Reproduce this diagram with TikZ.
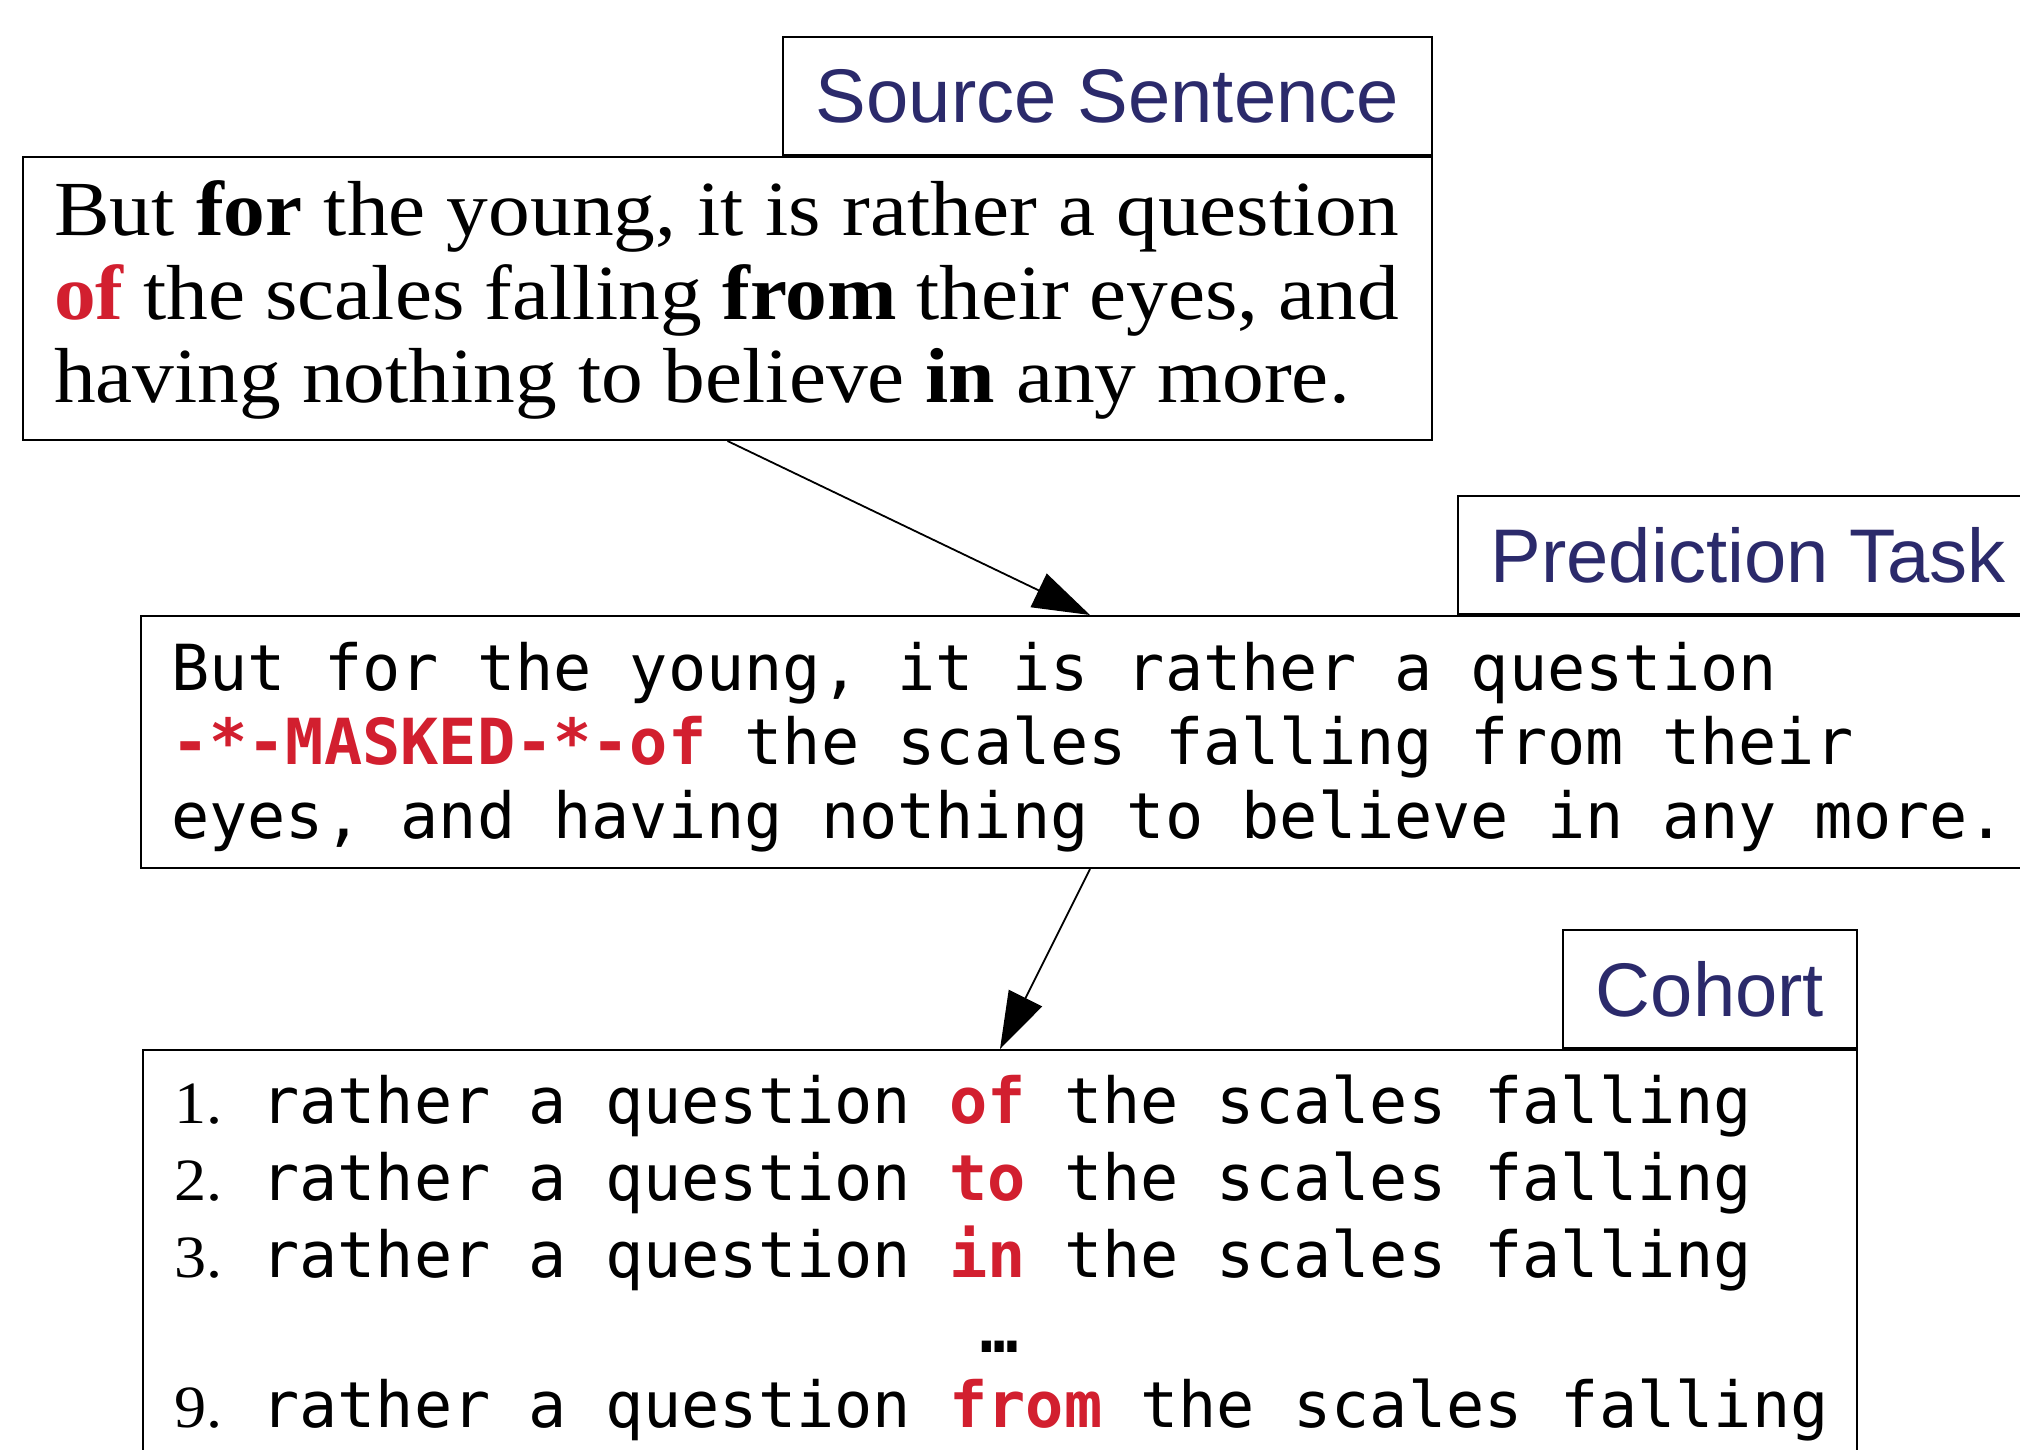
\documentclass[tikz,border=0pt]{standalone}
\usepackage{fontspec}
\setmainfont{Liberation Serif}
\setsansfont{Liberation Sans}
\setmonofont{DejaVu Sans Mono}
\newfontfamily\srcfont[FakeStretch=1.07]{Liberation Serif}
\usetikzlibrary{arrows.meta}
\definecolor{navy}{HTML}{2B2A6B}
\definecolor{hired}{HTML}{D21F2F}
\tikzset{
  box/.style={draw=black, line width=2pt, anchor=north west, inner sep=0pt},
  tag/.style={draw=black, line width=2pt, anchor=south east, minimum height=118pt,
    inner xsep=33pt, inner ysep=0pt, text=navy, font=\sffamily\fontsize{76}{90}\selectfont},
  srcline/.style={anchor=base west, inner sep=0pt, font=\srcfont\fontsize{78}{84}\selectfont},
  monoline/.style={anchor=base west, inner sep=0pt, font=\ttfamily\fontsize{63.5}{75}\selectfont},
  numline/.style={anchor=base west, inner sep=0pt, font=\srcfont\fontsize{60}{70}\selectfont},
  conn/.style={line width=1.8pt, -{Triangle[length=57pt,width=37pt]}}
}
\newcommand{\redw}[1]{\textbf{\color{hired}#1}}
\begin{document}
\begin{tikzpicture}[x=1pt,y=-1pt]
\useasboundingbox (0,0) rectangle (2020,1449);
\clip (0,0) rectangle (2020,1449);
\fill[white] (0,0) rectangle (2020,1449);

% boxes
\node[box, minimum width=1409pt, minimum height=283pt] (src) at (22,156) {};
\node[box, minimum width=1898pt, minimum height=252pt] (pred) at (140,615) {};
\node[box, minimum width=1714pt, minimum height=430pt] (coh) at (142,1049) {};

% tags
\node[tag] (srctag) at (src.north east) {Source Sentence};
\node[tag] (predtag) at (pred.north east) {Prediction Task};
\node[tag] (cohtag) at (coh.north east) {Cohort};

% source sentence
\node[srcline] (s1) at (54,235) {\makebox[1345pt][s]{But \textbf{for} the young, it is rather a question}};
\node[srcline] (s2) at (54,319) {\makebox[1345pt][s]{\redw{of} the scales falling \textbf{from} their eyes, and}};
\node[srcline] (s3) at (54,402) {having nothing to believe \textbf{in} any more.};

% prediction task
\node[monoline] (p1) at (171,690) {But for the young, it is rather a question};
\node[monoline] (p2) at (171,764) {\redw{-*-MASKED-*-of} the scales falling from their};
\node[monoline] (p3) at (171,838) {eyes, and having nothing to believe in any more.};

% cohort
\node[numline] (n1) at (174,1123) {1.};
\node[monoline] (c1) at (261,1123) {rather a question \redw{of} the scales falling};
\node[numline] (n2) at (174,1200) {2.};
\node[monoline] (c2) at (261,1200) {rather a question \redw{to} the scales falling};
\node[numline] (n3) at (174,1277) {3.};
\node[monoline] (c3) at (261,1277) {rather a question \redw{in} the scales falling};
\node[anchor=base, inner sep=0pt, font=\ttfamily\bfseries\fontsize{63.5}{75}\selectfont] (dots) at (1000,1352) {…};
\node[numline] (n9) at (174,1427) {9.};
\node[monoline] (c9) at (261,1427) {rather a question \redw{from} the scales falling};

% connectors
\draw[conn] (src.south) -- (pred.north);
\draw[conn] (pred.south) -- (coh.north);
\end{tikzpicture}
\end{document}
